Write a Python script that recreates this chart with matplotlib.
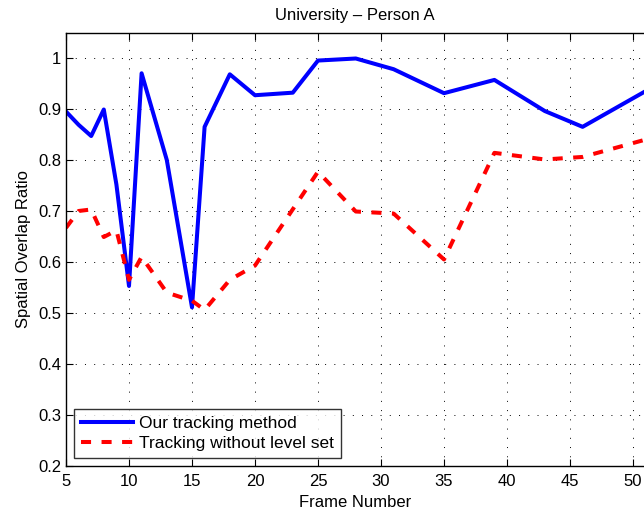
import matplotlib
matplotlib.use("Agg")
import matplotlib.pyplot as plt

frames_ours = [5, 6, 7, 8, 9, 10, 11, 13, 15, 16, 18, 20, 23, 25, 28, 31, 35, 39, 43, 46, 51]
ours = [0.895, 0.869, 0.847, 0.899, 0.752, 0.553, 0.970, 0.800, 0.511, 0.865, 0.968,
        0.927, 0.932, 0.995, 0.999, 0.978, 0.931, 0.957, 0.896, 0.865, 0.935]

frames_nols = [5, 6, 7, 8, 9, 10, 11, 13, 15, 16, 18, 20, 25, 28, 31, 35, 39, 43, 46, 51]
nols = [0.667, 0.700, 0.703, 0.649, 0.662, 0.565, 0.610, 0.540, 0.524, 0.506, 0.565,
        0.593, 0.777, 0.699, 0.695, 0.605, 0.814, 0.801, 0.806, 0.840]

xticks = [5, 10, 15, 20, 25, 30, 35, 40, 45, 50]
yticks = [0.2, 0.3, 0.4, 0.5, 0.6, 0.7, 0.8, 0.9, 1.0]
ytick_labels = ["0.2", "0.3", "0.4", "0.5", "0.6", "0.7", "0.8", "0.9", "1"]

plt.rcParams['font.family'] = ['Liberation Sans', 'DejaVu Sans']

fig = plt.figure(figsize=(6.44, 5.16), dpi=100)
ax = fig.add_axes([66/644, 50/516, 578/644, 433/516])

ax.plot(frames_ours, ours, color='#0000ff', lw=2.9, label='Our tracking method')
ax.plot(frames_nols, nols, color='#ff0000', lw=2.9, ls=(0, (2.5, 2.6)),
        label='Tracking without level set')

ax.set_xlim(5, 5 + 578/12.6)
ax.set_ylim(0.2, 1.049)
ax.set_xticks(xticks)
ax.set_yticks(yticks)
ax.set_yticklabels(ytick_labels)
ax.tick_params(direction='in', top=True, right=False, labelsize=12, length=5, width=0.8)
ax.tick_params(axis='x', pad=5.8)
ax.grid(True, color='black', ls=(0, (1, 8.5)), lw=0.7)
ax.spines['right'].set_visible(False)
for s in ['left', 'top', 'bottom']:
    ax.spines[s].set_linewidth(1.0)

ax.set_title('University \u2013 Person A', fontsize=12, pad=9)
ax.set_xlabel('Frame Number', fontsize=12, labelpad=4)
ax.set_ylabel('Spatial Overlap Ratio', fontsize=12, labelpad=5)

leg = ax.legend(loc='lower left', fontsize=12.5, frameon=True, fancybox=False,
                edgecolor='black', borderaxespad=0.45, handlelength=3.0,
                borderpad=0.4, labelspacing=0.3, handletextpad=0.35)
leg.get_frame().set_linewidth(1.0)

fig.savefig('out.png', dpi=100)
